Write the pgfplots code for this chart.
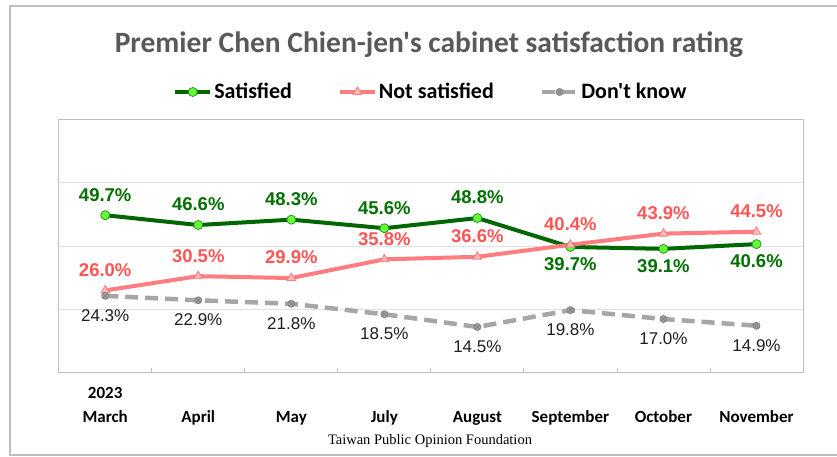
\documentclass[border=0pt]{standalone}
\usepackage{fontspec}
\setmainfont{Liberation Sans}
\newfontfamily\carlito{Carlito}
\newfontfamily\timesf{Liberation Serif}
\usepackage{pgfplots}
\pgfplotsset{compat=1.18}
\definecolor{satline}{RGB}{0,102,0}
\definecolor{satfill}{RGB}{102,255,51}
\definecolor{satedge}{RGB}{40,150,40}
\definecolor{sattext}{RGB}{0,112,0}
\definecolor{notline}{RGB}{255,124,128}
\definecolor{notfill}{RGB}{255,185,185}
\definecolor{nottext}{RGB}{255,85,85}
\definecolor{dkline}{RGB}{166,166,166}
\definecolor{dkedge}{RGB}{128,128,128}
\definecolor{dktext}{RGB}{30,30,30}
\definecolor{framec}{RGB}{190,190,190}
\definecolor{gridc}{RGB}{225,225,225}
\definecolor{titlec}{RGB}{89,89,89}
\pgfplotsset{lbl/.style n args={3}{draw=none, mark=none, forget plot, point meta=y,
  nodes near coords={\pgfmathprintnumber[fixed,fixed zerofill,precision=1,assume math mode=true]{\pgfplotspointmeta}\%},
  every node near coord/.style={anchor=center, yshift=#1, text=#2, font=#3}}}
\begin{document}
\begin{tikzpicture}
\useasboundingbox (0pt,0pt) rectangle (837pt,457pt);
\fill[white] (0pt,0pt) rectangle (837pt,457pt);
\draw[framec, line width=1.8pt] (10pt,2pt) rectangle (860pt,451pt);
\node[font=\carlito\bfseries\fontsize{29.5}{34}\selectfont, text=titlec] at (429pt,412pt) {Premier Chen Chien-jen's cabinet satisfaction rating};
\node[font=\timesf\fontsize{14.5}{17}\selectfont] at (430pt,16pt) {Taiwan Public Opinion Foundation};
\begin{axis}[at={(58.7pt,84pt)}, anchor=south west, scale only axis, width=744.3pt, height=254pt,
 xmin=-0.5, xmax=7.5, ymin=0, ymax=80,
 xtick={-0.5,0.5,...,7.5}, x tick label as interval, xtick pos=bottom, tick align=inside, major tick length=5pt,
 xticklabels={{\begin{tabular}[b]{@{}c@{}}2023\\[3.6pt]March\end{tabular}},April,May,July,August,September,October,November},
 xticklabel style={anchor=base, yshift=-49.5pt, font=\carlito\bfseries\fontsize{17}{20.4}\selectfont, text=black},
 xtick style={draw=framec, line width=0.8pt},
 ytick={20,40,60}, yticklabels={}, ytick style={draw=none}, ymajorgrids, grid style={draw=gridc, line width=0.8pt},
 axis line style={draw=framec, line width=1pt},
 legend columns=3,
 legend style={at={(0.5,1)}, anchor=center, yshift=27pt, draw=none, fill=none, font=\carlito\bfseries\fontsize{22}{26}\selectfont, /tikz/every even column/.append style={column sep=44pt}},
 legend image code/.code={\draw[mark repeat=2,mark phase=2,#1] plot coordinates {(0pt,0pt) (17.5pt,0pt) (35pt,0pt)};},
 clip=false,
]
\addplot[satline, line width=4pt, mark=*, mark size=4.5pt, mark options={fill=satfill, draw=satedge, line width=0.8pt}] coordinates {(0,49.7)(1,46.6)(2,48.3)(3,45.6)(4,48.8)(5,39.7)(6,39.1)(7,40.6)};
\addlegendentry{Satisfied}
\addplot[notline, line width=4pt, mark=triangle*, mark size=5pt, mark options={fill=notfill, draw=notline, line width=0.8pt}] coordinates {(0,26.0)(1,30.5)(2,29.9)(3,35.8)(4,36.6)(5,40.4)(6,43.9)(7,44.5)};
\addlegendentry{Not satisfied}
\addplot[dkline, line width=4.5pt, dash pattern=on 13pt off 7pt, mark=otimes*, mark size=3.5pt, mark options={fill=dkline, draw=dkedge, line width=0.8pt, solid}] coordinates {(0,24.3)(1,22.9)(2,21.8)(3,18.5)(4,14.5)(5,19.8)(6,17.0)(7,14.9)};
\addlegendentry{Don't know}
\addplot[lbl={20.5pt}{sattext}{\bfseries\fontsize{18.5}{22}\selectfont}] coordinates {(0,49.7)(1,46.6)(2,48.3)(3,45.6)(4,48.8)};
\addplot[lbl={-17pt}{sattext}{\bfseries\fontsize{18.5}{22}\selectfont}] coordinates {(5,39.7)(6,39.1)(7,40.6)};
\addplot[lbl={20.5pt}{nottext}{\bfseries\fontsize{18.5}{22}\selectfont}] coordinates {(0,26.0)(1,30.5)(2,29.9)(3,35.8)(4,36.6)(5,40.4)(6,43.9)(7,44.5)};
\addplot[lbl={-19.5pt}{dktext}{\fontsize{17}{20}\selectfont}] coordinates {(0,24.3)(1,22.9)(2,21.8)(3,18.5)(4,14.5)(5,19.8)(6,17.0)(7,14.9)};
\end{axis}
\end{tikzpicture}
\end{document}
